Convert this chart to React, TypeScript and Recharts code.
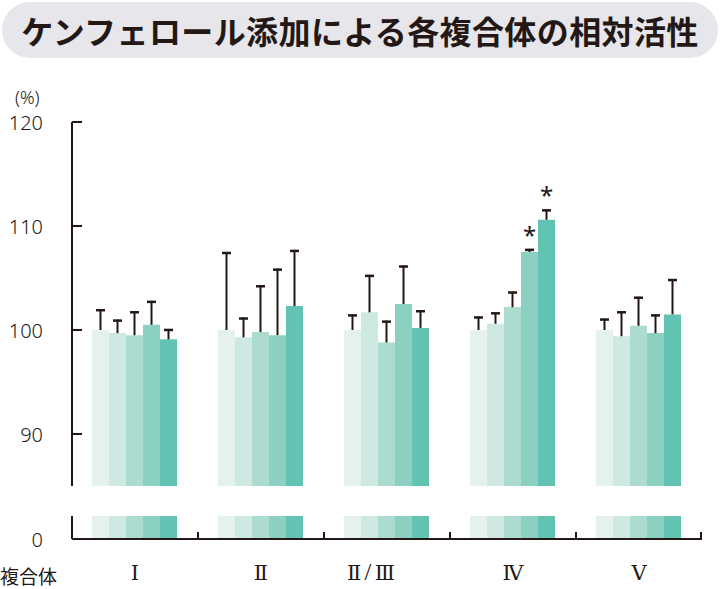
import React from 'react';
import { BarChart, Bar, XAxis, YAxis, LabelList } from 'recharts';

const title = 'ケンフェロール添加による各複合体の相対活性';
const categories = ['Ⅰ', 'Ⅱ', 'Ⅱ/Ⅲ', 'Ⅳ', 'Ⅴ'];
const upperTicks = [90, 100, 110, 120];
const lowerTicks = [0];

// mean relative activity (%) for 5 kaempferol levels
const series1 = [100, 100, 100, 100, 100];
const series2 = [99.7, 99.3, 101.7, 100.6, 99.4];
const series3 = [99.5, 99.8, 98.8, 102.2, 100.4];
const series4 = [100.5, 99.5, 102.5, 107.5, 99.7];
const series5 = [99.1, 102.3, 100.2, 110.6, 101.5];

// upper error (SD)
const error1 = [2.0, 7.5, 1.5, 1.3, 1.1];
const error2 = [1.3, 1.9, 3.6, 1.1, 2.4];
const error3 = [2.3, 4.5, 2.1, 1.5, 2.8];
const error4 = [2.3, 6.4, 3.7, 0.3, 1.8];
const error5 = [1.0, 5.4, 1.7, 1.0, 3.4];

// significance marks
const mark1 = ['', '', '', '', ''];
const mark2 = ['', '', '', '', ''];
const mark3 = ['', '', '', '', ''];
const mark4 = ['', '', '', '*', ''];
const mark5 = ['', '', '', '*', ''];

const colors = ['#e4f1ee', '#cee8e2', '#acdbd0', '#8cd0c2', '#63c3b2'];
const INK = '#231815';

const seriesValues = [series1, series2, series3, series4, series5];
const seriesErrors = [error1, error2, error3, error4, error5];
const seriesMarks = [mark1, mark2, mark3, mark4, mark5];

const data = categories.map((c, i) => {
  const row: any = { name: c };
  seriesValues.forEach((s, k) => {
    row['v' + k] = s[i];
    row['e' + k] = seriesErrors[k][i];
    row['m' + k] = seriesMarks[k][i];
  });
  return row;
});

const ErrorShape = (props: any) => {
  const { x, y, width, height } = props;
  if (!height || height <= 0) return <g />;
  const cx = x + width / 2;
  return (
    <g>
      <line x1={cx} x2={cx} y1={y} y2={y + height} stroke={INK} strokeWidth={2} />
      <line x1={cx - 4.5} x2={cx + 4.5} y1={y + 1} y2={y + 1} stroke={INK} strokeWidth={2.5} />
    </g>
  );
};

const MarkLabel = (props: any) => {
  const { x, y, width, value } = props;
  if (!value) return null;
  return (
    <text x={x + width / 2} y={y - 5} textAnchor="middle" fontSize={24} fill={INK}
      fontFamily="'Noto Sans', sans-serif">{value}</text>
  );
};

const numFont = "'Noto Sans', 'DejaVu Sans', sans-serif";
const cjkFont = "'Noto Sans CJK JP', 'Noto Sans', sans-serif";
const romanFont = "'DejaVu Serif', 'Liberation Serif', serif";

const UpperTick = (props: any) => {
  const { x, y, payload } = props;
  return (
    <g>
      <line x1={x} x2={x + 10} y1={y} y2={y} stroke={INK} strokeWidth={2} />
      <text x={x - 29} y={y} textAnchor="end" dominantBaseline="central" fontSize={20}
        fontWeight={300} fill={INK} fontFamily={numFont}>{payload.value}</text>
    </g>
  );
};

const LowerYTick = (props: any) => {
  const { x, y, payload } = props;
  return (
    <text x={x - 29} y={y} textAnchor="end" dominantBaseline="central" fontSize={20}
      fontWeight={300} fill={INK} fontFamily={numFont}>{payload.value}</text>
  );
};

const HALF_BAND = 63;
const XTick = (props: any) => {
  const { x, y, payload, index } = props;
  const last = index === categories.length - 1;
  const label = String(payload.value);
  const parts = label.split('/');
  return (
    <g>
      {index > 0 && (
        <line x1={x - HALF_BAND} x2={x - HALF_BAND} y1={y} y2={y - 7} stroke={INK} strokeWidth={2} />
      )}
      {last && (
        <line x1={x + HALF_BAND - 1} x2={x + HALF_BAND - 1} y1={y} y2={y - 7} stroke={INK} strokeWidth={2} />
      )}
      <text x={parts.length > 1 ? x - 16 : x} y={y + 41} textAnchor="middle"
        fontSize={21} fill={INK} fontFamily={romanFont}>
        {parts.length > 1 ? (
          <>
            <tspan>{parts[0]}</tspan>
            <tspan dx={3} fontFamily={numFont} fontWeight={300}>/</tspan>
            <tspan dx={3}>{parts[1]}</tspan>
          </>
        ) : label}
      </text>
    </g>
  );
};

export default function App() {
  const keys = [0, 1, 2, 3, 4];
  return (
    <div style={{ position: 'absolute', left: 0, top: 0, width: 720, height: 589, background: '#fff', overflow: 'hidden' }}>
      <div style={{
        position: 'absolute', left: 2, top: 2, width: 716, height: 56, borderRadius: 28,
        background: '#e6e6eb', display: 'flex', alignItems: 'center', justifyContent: 'center',
        fontFamily: cjkFont, fontWeight: 700, fontSize: 32, color: INK, letterSpacing: 0.4,
      }}>{title}</div>

      <div style={{ position: 'absolute', left: 15, top: 86, fontFamily: numFont, fontSize: 18, fontWeight: 300, color: INK, lineHeight: '22px' }}>(%)</div>
      <div style={{ position: 'absolute', left: 0, top: 565, fontFamily: cjkFont, fontSize: 19, color: INK, lineHeight: '22px' }}>複合体</div>

      <div style={{ position: 'absolute', left: 0, top: 0 }}>
        <BarChart width={720} height={500} data={data} margin={{ top: 122, right: 18, bottom: 14, left: 12 }}
          barCategoryGap={20} barGap={0}>
          <XAxis dataKey="name" hide />
          <YAxis domain={[85, 120]} ticks={upperTicks} allowDataOverflow width={60} interval={0}
            axisLine={{ stroke: INK, strokeWidth: 2 }} tickLine={false} tickSize={0} tickMargin={0}
            tick={UpperTick} />
          {keys.map((k) => (
            <Bar key={'v' + k} dataKey={'v' + k} stackId={'s' + k} fill={colors[k]} isAnimationActive={false} />
          ))}
          {keys.map((k) => (
            <Bar key={'e' + k} dataKey={'e' + k} stackId={'s' + k} fill="none" shape={ErrorShape}
              isAnimationActive={false}>
              <LabelList dataKey={'m' + k} content={MarkLabel} />
            </Bar>
          ))}
        </BarChart>
      </div>

      <div style={{ position: 'absolute', left: 0, top: 0 }}>
        <BarChart width={720} height={589} data={data} margin={{ top: 516, right: 18, bottom: 0, left: 12 }}
          barCategoryGap={20} barGap={0}>
          <XAxis dataKey="name" height={50} interval={0} axisLine={{ stroke: INK, strokeWidth: 2 }}
            tickLine={false} tickSize={0} tickMargin={0} tick={XTick} />
          <YAxis domain={[0, 2.2]} ticks={lowerTicks} allowDataOverflow width={60} interval={0}
            axisLine={{ stroke: INK, strokeWidth: 2 }} tickLine={false} tickSize={0} tickMargin={0}
            tick={LowerYTick} />
          {keys.map((k) => (
            <Bar key={'l' + k} dataKey={'v' + k} stackId={'l' + k} fill={colors[k]} isAnimationActive={false} />
          ))}
        </BarChart>
      </div>
    </div>
  );
}
